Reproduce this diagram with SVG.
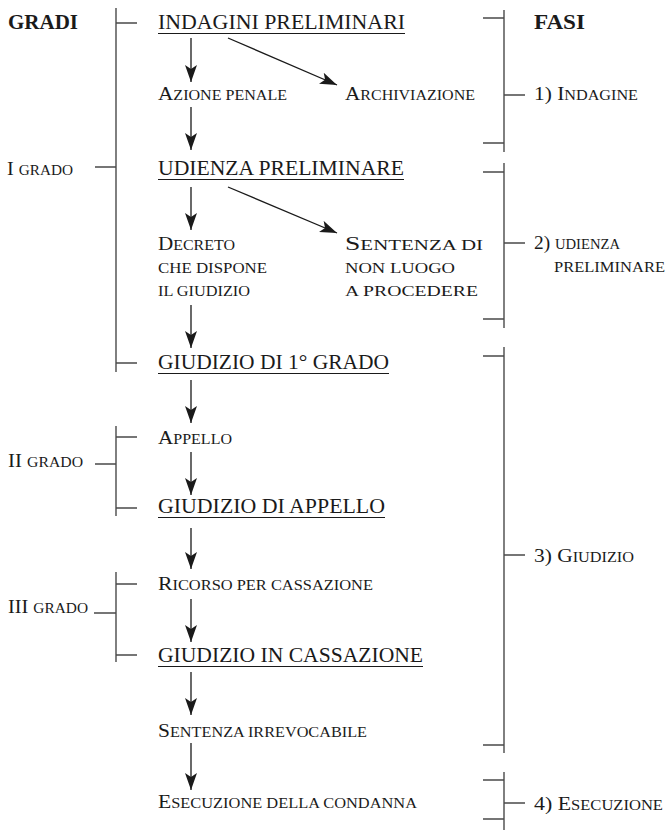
<svg xmlns="http://www.w3.org/2000/svg" width="669" height="830" viewBox="0 0 669 830" font-family="'Liberation Serif', 'DejaVu Serif', serif">
<style>
.t{font-family:'Liberation Serif', 'DejaVu Serif', serif;fill:#1a1a1a}
.h{font-size:21px;font-weight:bold}
.m{font-size:21px}
.s{font-size:18.5px}
.sc{font-size:14px}
.ul{stroke:#1a1a1a;stroke-width:1}
.br{stroke:#4a4a4a;stroke-width:1.4;fill:none}
.ar{stroke:#1a1a1a;stroke-width:1.3;fill:none;marker-end:url(#ah)}
</style>
<defs>
<marker id="ah" markerUnits="userSpaceOnUse" markerWidth="20" markerHeight="14" refX="17" refY="6" orient="auto" viewBox="0 0 20 14">
<path d="M17,6 L0,0 L4,6 L0,12 Z" fill="#1a1a1a"/>
</marker>
</defs>
<rect width="669" height="830" fill="#fff"/>
<g id="headers" class="t">
<text class="h" x="8" y="29" textLength="70" lengthAdjust="spacingAndGlyphs">GRADI</text>
<text class="h" x="534" y="29" textLength="51" lengthAdjust="spacingAndGlyphs">FASI</text>
</g>
<g id="n-indagini" class="t"><text class="m" x="158" y="29" textLength="247" lengthAdjust="spacingAndGlyphs">INDAGINI PRELIMINARI</text><line class="ul" x1="158" y1="33.5" x2="405" y2="33.5"/></g>
<g id="n-azione" class="t"><text class="s" x="158" y="100" textLength="129" lengthAdjust="spacingAndGlyphs">A<tspan class="sc">ZIONE PENALE</tspan></text></g>
<g id="n-archiviazione" class="t"><text class="s" x="345" y="100" textLength="130" lengthAdjust="spacingAndGlyphs">A<tspan class="sc">RCHIVIAZIONE</tspan></text></g>
<g id="n-udienza" class="t"><text class="m" x="158" y="175" textLength="246" lengthAdjust="spacingAndGlyphs">UDIENZA PRELIMINARE</text><line class="ul" x1="158" y1="179.5" x2="404" y2="179.5"/></g>
<g id="n-decreto" class="t">
<text class="s" x="158" y="250" textLength="77" lengthAdjust="spacingAndGlyphs">D<tspan class="sc">ECRETO</tspan></text>
<text class="s sc" x="158" y="273" textLength="109" lengthAdjust="spacingAndGlyphs">CHE DISPONE</text>
<text class="s sc" x="158" y="296" textLength="92" lengthAdjust="spacingAndGlyphs">IL GIUDIZIO</text>
</g>
<g id="n-sentenza-nlp" class="t">
<text class="s" x="345" y="250" textLength="138" lengthAdjust="spacingAndGlyphs">S<tspan class="sc">ENTENZA DI</tspan></text>
<text class="s sc" x="345" y="273" textLength="110" lengthAdjust="spacingAndGlyphs">NON LUOGO</text>
<text class="s sc" x="345" y="296" textLength="133" lengthAdjust="spacingAndGlyphs">A PROCEDERE</text>
</g>
<g id="n-giudizio1" class="t"><text class="m" x="158" y="369" textLength="231" lengthAdjust="spacingAndGlyphs">GIUDIZIO DI 1° GRADO</text><line class="ul" x1="158" y1="373.5" x2="389" y2="373.5"/></g>
<g id="n-appello" class="t"><text class="s" x="158" y="444" textLength="74" lengthAdjust="spacingAndGlyphs">A<tspan class="sc">PPELLO</tspan></text></g>
<g id="n-giudizio-appello" class="t"><text class="m" x="158" y="513" textLength="227" lengthAdjust="spacingAndGlyphs">GIUDIZIO DI APPELLO</text><line class="ul" x1="158" y1="517.5" x2="385" y2="517.5"/></g>
<g id="n-ricorso" class="t"><text class="s" x="158" y="590" textLength="215" lengthAdjust="spacingAndGlyphs">R<tspan class="sc">ICORSO PER CASSAZIONE</tspan></text></g>
<g id="n-cassazione" class="t"><text class="m" x="158" y="662" textLength="265" lengthAdjust="spacingAndGlyphs">GIUDIZIO IN CASSAZIONE</text><line class="ul" x1="158" y1="666.5" x2="423" y2="666.5"/></g>
<g id="n-irrevocabile" class="t"><text class="s" x="158" y="737" textLength="209" lengthAdjust="spacingAndGlyphs">S<tspan class="sc">ENTENZA IRREVOCABILE</tspan></text></g>
<g id="n-esecuzione" class="t"><text class="s" x="158" y="808" textLength="259" lengthAdjust="spacingAndGlyphs">E<tspan class="sc">SECUZIONE DELLA CONDANNA</tspan></text></g>
<g id="gradi" class="t">
<text class="s" x="7" y="175" textLength="66" lengthAdjust="spacingAndGlyphs">I <tspan class="sc">GRADO</tspan></text>
<text class="s" x="8" y="467" textLength="75" lengthAdjust="spacingAndGlyphs">II <tspan class="sc">GRADO</tspan></text>
<text class="s" x="8" y="613" textLength="80" lengthAdjust="spacingAndGlyphs">III <tspan class="sc">GRADO</tspan></text>
<path class="br" d="M116,8 V372 M116,23 H137 M95,167 H116 M116,363 H137"/>
<path class="br" d="M116,426 V516 M116,437 H137 M95,464 H116 M116,508 H137"/>
<path class="br" d="M116,572 V662 M116,584 H137 M94,613 H116 M116,655 H137"/>
</g>
<g id="fasi" class="t">
<text class="s" x="534" y="100" textLength="104" lengthAdjust="spacingAndGlyphs">1) I<tspan class="sc">NDAGINE</tspan></text>
<text class="s" x="534" y="249" textLength="86" lengthAdjust="spacingAndGlyphs">2) <tspan class="sc">UDIENZA</tspan></text>
<text class="s sc" x="554" y="272" textLength="111" lengthAdjust="spacingAndGlyphs">PRELIMINARE</text>
<text class="s" x="534" y="562" textLength="100" lengthAdjust="spacingAndGlyphs">3) G<tspan class="sc">IUDIZIO</tspan></text>
<text class="s" x="534" y="810" textLength="129" lengthAdjust="spacingAndGlyphs">4) E<tspan class="sc">SECUZIONE</tspan></text>
<path class="br" d="M504,10 V152 M483,18 H504 M504,95 H525 M483,143 H504"/>
<path class="br" d="M504,163 V328 M483,172 H504 M504,243 H525 M483,319 H504"/>
<path class="br" d="M504,347 V753 M483,356 H504 M504,555 H525 M483,745 H504"/>
<path class="br" d="M504,772 V830 M483,780 H504 M504,803 H525 M483,819 H504"/>
</g>
<g id="connectors">
<line class="ar" x1="191" y1="38" x2="191" y2="82"/>
<line class="ar" x1="228" y1="38" x2="337" y2="85"/>
<line class="ar" x1="191" y1="107" x2="191" y2="150"/>
<line class="ar" x1="191" y1="187" x2="191" y2="230"/>
<line class="ar" x1="228" y1="187" x2="337" y2="233"/>
<line class="ar" x1="191" y1="305" x2="191" y2="348"/>
<line class="ar" x1="191" y1="380" x2="191" y2="423"/>
<line class="ar" x1="191" y1="452" x2="191" y2="495"/>
<line class="ar" x1="191" y1="528" x2="191" y2="569"/>
<line class="ar" x1="191" y1="599" x2="191" y2="642"/>
<line class="ar" x1="191" y1="672" x2="191" y2="715"/>
<line class="ar" x1="191" y1="743" x2="191" y2="790"/>
</g>
</svg>
